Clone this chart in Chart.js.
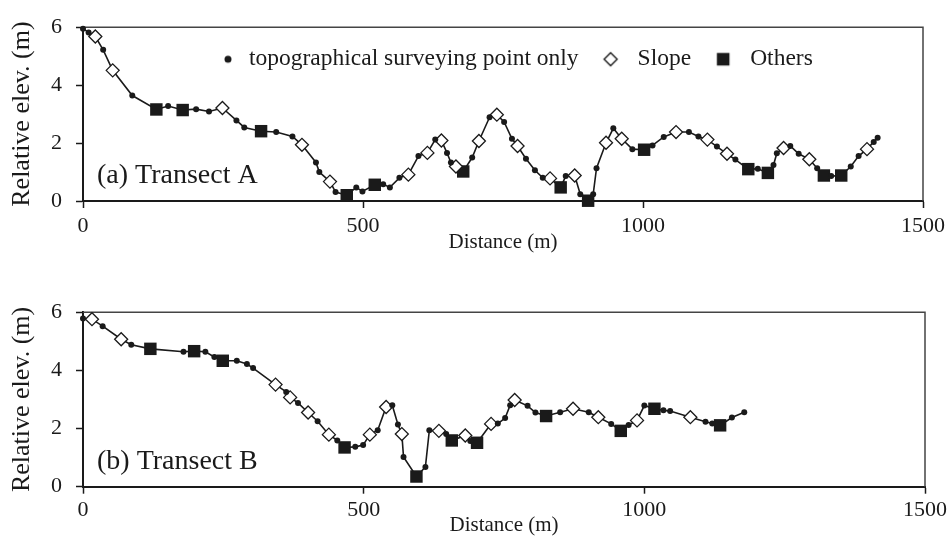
<!DOCTYPE html>
<html>
<head>
<meta charset="utf-8">
<script src="https://cdn.jsdelivr.net/npm/chart.js@4.4.1/dist/chart.umd.min.js"></script>
<style>
html, body { margin: 0; padding: 0; background: #fff; }
#wrap { position: relative; width: 950px; height: 542px; }
canvas { position: absolute; left: 0; }
</style>
</head>
<body>
<div id="wrap">
  <canvas id="chartA" width="950" height="260" style="top:0px"></canvas>
  <canvas id="chartB" width="950" height="257" style="top:285px"></canvas>
</div>
<script>
// point types: t = topographical surveying point only, s = slope, o = others
const aDist = [0, 10, 22, 36, 53, 88, 131, 152, 178, 202, 225, 249, 274, 288, 318, 345, 374, 391, 416, 422,
  441, 451, 471, 488, 499, 521, 536, 548, 565, 581, 599, 615, 629, 640, 650, 657, 666, 679, 695, 707,
  726, 739, 752, 766, 776, 791, 807, 821, 834, 853, 862, 878, 888, 902, 911, 917, 934, 947, 962, 981,
  1002, 1017, 1037, 1059, 1082, 1099, 1115, 1132, 1150, 1165, 1188, 1205, 1223, 1233, 1239, 1251, 1263, 1278, 1297, 1311,
  1323, 1336, 1354, 1371, 1385, 1400, 1412, 1419];
const aElev = [5.95, 5.82, 5.68, 5.22, 4.51, 3.64, 3.16, 3.28, 3.14, 3.17, 3.09, 3.21, 2.78, 2.54, 2.41, 2.38, 2.23, 1.94, 1.33, 1.00,
  0.67, 0.31, 0.20, 0.47, 0.33, 0.56, 0.58, 0.47, 0.80, 0.91, 1.55, 1.66, 2.12, 2.09, 1.66, 1.33, 1.19, 1.02, 1.50, 2.07,
  2.89, 2.98, 2.73, 2.15, 1.90, 1.46, 1.06, 0.80, 0.78, 0.47, 0.86, 0.88, 0.23, 0.01, 0.23, 1.13, 2.01, 2.51, 2.15, 1.79,
  1.77, 1.92, 2.21, 2.38, 2.38, 2.23, 2.12, 1.88, 1.63, 1.43, 1.10, 1.11, 0.97, 1.24, 1.65, 1.83, 1.90, 1.63, 1.44, 1.13,
  0.88, 0.86, 0.88, 1.19, 1.55, 1.79, 2.04, 2.18];
const aType = ['t', 't', 's', 't', 's', 't', 'o', 't', 'o', 't', 't', 's', 't', 't', 'o', 't', 't', 's', 't', 't',
  's', 't', 'o', 't', 't', 'o', 't', 't', 't', 's', 't', 's', 't', 's', 't', 't', 's', 'o', 't', 's',
  't', 's', 't', 't', 's', 't', 't', 't', 's', 'o', 't', 's', 't', 'o', 't', 't', 's', 't', 's', 't',
  'o', 't', 't', 's', 't', 't', 's', 't', 's', 't', 'o', 't', 'o', 't', 't', 's', 't', 't', 's', 't',
  'o', 't', 'o', 't', 't', 's', 't', 't'];

const bDist = [0, 16, 35, 68, 86, 120, 179, 198, 218, 234, 249, 274, 292, 303, 343, 362, 369, 383, 401, 418,
  438, 453, 466, 485, 499, 511, 525, 540, 551, 561, 568, 571, 594, 610, 617, 634, 647, 657, 681, 690,
  702, 727, 739, 752, 761, 769, 792, 806, 825, 850, 873, 901, 918, 941, 958, 972, 987, 1000, 1018, 1034,
  1046, 1082, 1109, 1121, 1135, 1156, 1178];
const bElev = [5.78, 5.76, 5.52, 5.07, 4.88, 4.74, 4.64, 4.66, 4.64, 4.46, 4.33, 4.33, 4.22, 4.08, 3.51, 3.26, 3.07, 2.88, 2.55, 2.25,
  1.79, 1.59, 1.35, 1.37, 1.43, 1.79, 1.94, 2.74, 2.80, 2.14, 1.81, 1.02, 0.35, 0.68, 1.94, 1.92, 1.81, 1.59, 1.76, 1.57,
  1.51, 2.16, 2.17, 2.36, 2.80, 2.98, 2.78, 2.55, 2.43, 2.56, 2.68, 2.56, 2.39, 2.16, 1.92, 2.12, 2.28, 2.79, 2.68, 2.63,
  2.60, 2.39, 2.23, 2.17, 2.11, 2.38, 2.56];
const bType = ['t', 's', 't', 's', 't', 'o', 't', 'o', 't', 't', 'o', 't', 't', 't', 's', 't', 's', 't', 's', 't',
  's', 't', 'o', 't', 't', 's', 't', 's', 't', 't', 's', 't', 'o', 't', 't', 's', 't', 'o', 's', 't',
  'o', 's', 't', 't', 't', 's', 't', 't', 'o', 't', 's', 't', 's', 't', 'o', 't', 's', 't', 'o', 't',
  't', 's', 't', 't', 'o', 't', 't'];

const typeKeys = ['t', 's', 'o'];
const legendLabels = ['topographical surveying point only', 'Slope', 'Others'];
const xTicks = [0, 500, 1000, 1500];
const yTicks = [0, 2, 4, 6];

const ink = '#1a1a1a';
const serif = "'Liberation Serif', 'Times New Roman', serif";
Chart.defaults.font.family = serif;
Chart.defaults.color = ink;

function pts(dist, elev, type, t) {
  const out = [];
  dist.forEach((d, i) => {
    if (!t || type[i] === t) out.push({ x: d, y: elev[i] });
  });
  return out;
}

// small marker pictures for the legend
function marker(kind) {
  const c = document.createElement('canvas');
  c.width = 18; c.height = 18;
  const g = c.getContext('2d');
  g.fillStyle = ink; g.strokeStyle = ink; g.lineWidth = 1.4;
  g.beginPath();
  if (kind === 't') {
    g.arc(9, 9, 3.5, 0, Math.PI * 2); g.fill();
  } else if (kind === 's') {
    g.moveTo(9, 2.5); g.lineTo(15.5, 9); g.lineTo(9, 15.5); g.lineTo(2.5, 9); g.closePath();
    g.fillStyle = '#fff'; g.fill(); g.stroke();
  } else {
    g.rect(2.7, 2.7, 12.6, 12.6); g.fill();
  }
  return c;
}

function makeDatasets(dist, elev, type) {
  return [
    { label: legendLabels[0], data: pts(dist, elev, type, 't'), showLine: false, pointStyle: 'circle',
      pointRadius: 3, pointBackgroundColor: ink, pointBorderColor: ink, pointBorderWidth: 0, order: 0, clip: false },
    { label: legendLabels[1], data: pts(dist, elev, type, 's'), showLine: false, pointStyle: 'rectRot',
      pointRadius: 6.5, pointBackgroundColor: '#fff', pointBorderColor: ink, pointBorderWidth: 1.3, order: 0, clip: false },
    { label: legendLabels[2], data: pts(dist, elev, type, 'o'), showLine: false, pointStyle: 'rect',
      pointRadius: 8.8, pointBackgroundColor: ink, pointBorderColor: ink, pointBorderWidth: 0, order: 0, clip: false },
    { label: 'profile', data: pts(dist, elev, type), showLine: true, pointRadius: 0,
      borderColor: ink, borderWidth: 1.6, tension: 0, order: 1, clip: false }
  ];
}

const framePlugin = {
  id: 'frame',
  beforeDatasetsDraw(chart) {
    const { ctx, chartArea: a } = chart;
    ctx.save();
    ctx.strokeStyle = '#444';
    ctx.lineWidth = 1.5;
    ctx.beginPath();
    ctx.moveTo(a.left, a.top);
    ctx.lineTo(a.right, a.top);
    ctx.lineTo(a.right, a.bottom);
    ctx.stroke();
    ctx.restore();
  },
  afterDraw(chart, args, opts) {
    const { ctx, chartArea: a } = chart;
    ctx.save();
    ctx.font = '28px ' + serif;
    ctx.fillStyle = ink;
    ctx.textBaseline = 'alphabetic';
    ctx.fillText(opts.text, a.left + 14, a.bottom - 18);

    // legend row inside the plot
    if (opts.legend) {
      ctx.font = '23.5px ' + serif;
      ctx.textBaseline = 'middle';
      let x = a.left + 145;
      const y = a.top + 32;
      legendLabels.forEach((lab, i) => {
        const img = marker(typeKeys[i]);
        ctx.drawImage(img, x - img.width / 2, y - img.height / 2);
        const tx = x + (i === 0 ? 21 : 27);
        ctx.fillText(lab, tx, y);
        x = tx + ctx.measureText(lab).width + 32;
      });
    }
    ctx.restore();
  }
};

const gridOpts = { display: true, drawOnChartArea: false, drawTicks: true, tickLength: 7, tickWidth: 1.5, tickColor: ink };
const borderOpts = { display: true, color: ink, width: 2 };

function makeOptions(label, xTickPad, xTitlePad, xHeight, showLegend) {
  return {
    responsive: false,
    animation: false,
    events: [],
    layout: { padding: { top: 19.3, right: 25, left: 0, bottom: 0 } },
    scales: {
      x: {
        type: 'linear', min: 0, max: 1500,
        afterBuildTicks: s => { s.ticks = xTicks.map(v => ({ value: v })); },
        afterFit: s => { s.height = xHeight; },
        grid: gridOpts,
        border: borderOpts,
        ticks: { padding: xTickPad, font: { size: 22 }, color: ink, maxRotation: 0, callback: v => String(v) },
        title: { display: true, text: 'Distance (m)', font: { size: 21 }, color: ink, padding: { top: 0, bottom: xTitlePad } }
      },
      y: {
        min: 0, max: 6,
        afterBuildTicks: s => { s.ticks = yTicks.map(v => ({ value: v })); },
        afterFit: s => { s.width = 83; },
        grid: gridOpts,
        border: borderOpts,
        ticks: { padding: 14, font: { size: 22 }, color: ink, callback: v => String(v) },
        title: { display: true, text: 'Relative elev. (m)', font: { size: 26 }, color: ink, padding: { top: 6.4, bottom: 0 } }
      }
    },
    plugins: {
      legend: { display: false },
      tooltip: { enabled: false },
      frame: { text: label, legend: showLegend }
    }
  };
}

new Chart(document.getElementById('chartA'), {
  type: 'scatter',
  data: { datasets: makeDatasets(aDist, aElev, aType) },
  options: makeOptions('(a) Transect A', 5, 5.4, 59, true),
  plugins: [framePlugin]
});

new Chart(document.getElementById('chartB'), {
  type: 'scatter',
  data: { datasets: makeDatasets(bDist, bElev, bType) },
  options: makeOptions('(b) Transect B', 3, 4.4, 55.3, false),
  plugins: [framePlugin]
});
</script>
</body>
</html>
